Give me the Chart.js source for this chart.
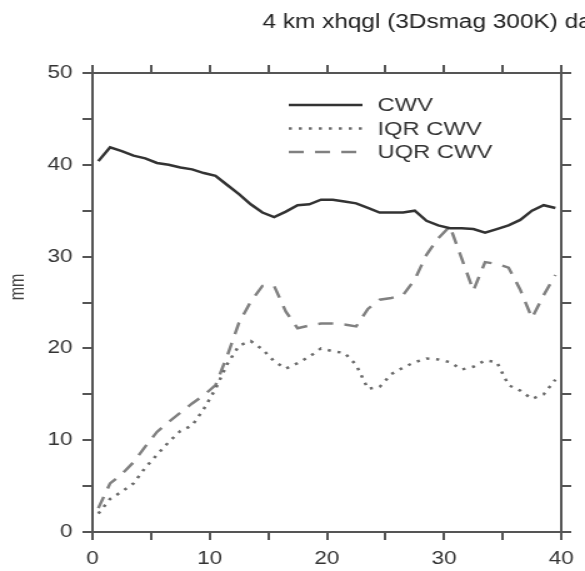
<!DOCTYPE html>
<html>
<head>
<meta charset="utf-8">
<script src="https://cdn.jsdelivr.net/npm/chart.js@4"></script>
<style>
  html, body { margin: 0; padding: 0; background: #fff; }
  #chart { display: block; }
</style>
</head>
<body>
<!-- the original figure is stretched sideways, so the canvas is drawn narrow and widened -->
<canvas id="chart" width="468" height="571" style="width:585px;height:571px"></canvas>
<script>
const days = [0.5, 1.5, 2.5, 3.5, 4.5, 5.5, 6.5, 7.5, 8.5, 9.5,
              10.5, 11.5, 12.5, 13.5, 14.5, 15.5, 16.5, 17.5, 18.5, 19.5,
              20.5, 21.5, 22.5, 23.5, 24.5, 25.5, 26.5, 27.5, 28.5, 29.5,
              30.5, 31.5, 32.5, 33.5, 34.5, 35.5, 36.5, 37.5, 38.5, 39.5];

const cwv = [40.4, 41.9, 41.5, 41.0, 40.7, 40.2, 40.0, 39.7, 39.5, 39.1,
             38.8, 37.8, 36.8, 35.7, 34.8, 34.3, 34.9, 35.6, 35.7, 36.2,
             36.2, 36.0, 35.8, 35.3, 34.8, 34.8, 34.8, 35.0, 33.9, 33.4,
             33.1, 33.1, 33.0, 32.6, 33.0, 33.4, 34.0, 35.0, 35.6, 35.3];

const iqrCwv = [2.0, 3.6, 4.4, 5.3, 7.0, 8.4, 9.8, 11.0, 11.6, 13.4,
                15.6, 18.3, 20.3, 20.8, 19.9, 18.6, 17.8, 18.4, 19.1, 20.0,
                19.7, 19.5, 18.2, 15.6, 15.8, 17.2, 17.9, 18.5, 18.9, 18.8,
                18.5, 17.7, 18.0, 18.7, 18.5, 16.0, 15.4, 14.5, 15.0, 16.6];

const uqrCwv = [2.6, 5.3, 6.3, 7.6, 9.3, 10.9, 12.0, 13.0, 14.0, 14.9,
                16.0, 19.2, 22.8, 25.1, 26.8, 26.8, 24.0, 22.2, 22.5, 22.7,
                22.7, 22.6, 22.4, 24.3, 25.3, 25.5, 25.8, 27.5, 30.2, 32.0,
                33.3, 29.8, 26.3, 29.4, 29.2, 28.8, 26.4, 23.3, 25.8, 28.0];

const seriesNames = ["CWV", "IQR CWV", "UQR CWV"];
const titleText = "4 km xhqgl (3Dsmag 300K) da";
const yLabel = "mm";

const FONT = '"Liberation Sans", Arial, sans-serif';
const AXIS = '#555';

function pts(values) {
  return days.map((d, i) => ({ x: d, y: values[i] }));
}

// tick marks every 5, numbers only every 10
function axisOpts(position, showLabels) {
  return {
    type: 'linear',
    position: position,
    min: 0,
    max: position === 'left' || position === 'right' ? 50 : 40,
    border: { display: true, color: AXIS, width: 2 },
    grid: { display: true, drawOnChartArea: false, drawTicks: true, tickLength: 8, color: AXIS, lineWidth: 2 },
    ticks: {
      display: showLabels,
      stepSize: 5,
      padding: 8,
      color: '#333',
      font: { family: FONT, size: 18 },
      callback: v => (v % 10 === 0 ? v : '')
    }
  };
}

const titleAndLegend = {
  id: 'titleAndLegend',
  afterDraw(chart) {
    const ctx = chart.ctx;
    ctx.save();
    ctx.fillStyle = '#222';
    ctx.font = '19.5px ' + FONT;
    ctx.textBaseline = 'alphabetic';
    ctx.fillText(titleText, 210, 28);

    // y axis unit, sits a little above the middle like the original
    ctx.save();
    ctx.translate(15, 287);
    ctx.rotate(-Math.PI / 2);
    ctx.fillStyle = '#444';
    ctx.font = '16px ' + FONT;
    ctx.textAlign = 'center';
    ctx.textBaseline = 'middle';
    ctx.fillText(yLabel, 0, 0);
    ctx.restore();

    chart.data.datasets.forEach((ds, i) => {
      const y = 105 + i * 23.5;
      ctx.strokeStyle = ds.borderColor;
      ctx.lineWidth = ds.borderWidth;
      ctx.setLineDash(ds.borderDash || []);
      ctx.beginPath();
      ctx.moveTo(231, y);
      ctx.lineTo(290, y);
      ctx.stroke();
      ctx.setLineDash([]);
      ctx.fillStyle = '#333';
      ctx.font = '19px ' + FONT;
      ctx.textBaseline = 'middle';
      ctx.fillText(ds.label, 302, y + 1);
    });
    ctx.restore();
  }
};

const x = axisOpts('bottom', true);
x.afterFit = s => { s.height = 39; };
const y = axisOpts('left', true);
y.afterFit = s => { s.width = 74; };
const xTop = axisOpts('top', false);
xTop.afterFit = s => { s.height = 0; };
const yRight = axisOpts('right', false);
yRight.afterFit = s => { s.width = 0; };

new Chart(document.getElementById('chart'), {
  type: 'line',
  data: {
    datasets: [
      { label: seriesNames[0], data: pts(cwv), borderColor: '#333', borderWidth: 2.5 },
      { label: seriesNames[1], data: pts(iqrCwv), borderColor: '#6a6a6a', borderWidth: 2.5, borderDash: [2.5, 5.5] },
      { label: seriesNames[2], data: pts(uqrCwv), borderColor: '#808080', borderWidth: 2.5, borderDash: [12, 9] }
    ]
  },
  options: {
    responsive: false,
    animation: false,
    parsing: true,
    layout: { padding: { top: 73, right: 19, left: 0, bottom: 0 } },
    elements: { point: { radius: 0 }, line: { tension: 0, fill: false } },
    scales: { x: x, y: y, xTop: xTop, yRight: yRight },
    plugins: { legend: { display: false }, title: { display: false }, tooltip: { enabled: false } }
  },
  plugins: [titleAndLegend]
});
</script>
</body>
</html>
